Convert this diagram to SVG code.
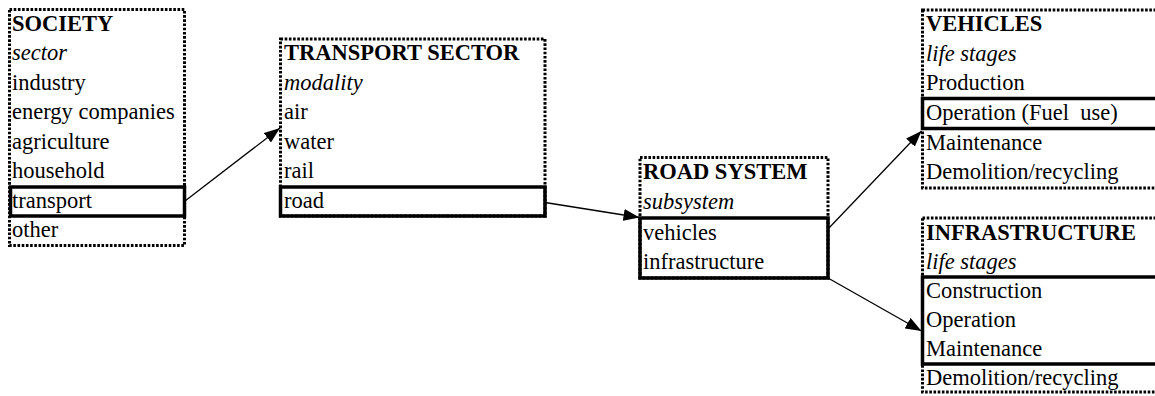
<svg xmlns="http://www.w3.org/2000/svg" width="1155" height="396" viewBox="0 0 1155 396">
  <style>
    text { font-family: "Liberation Serif", "Times New Roman", serif; font-size: 22.5px; fill: #000; white-space: pre; }
    .title { font-weight: bold; }
    .sub { font-style: italic; }
    .frame { fill: none; stroke: #000; stroke-width: 3; stroke-dasharray: 2.6 1.6; }
    .sel { fill: none; stroke: #000; stroke-width: 3.5; }
    .link { fill: none; stroke: #000; stroke-width: 1.3; marker-end: url(#head); }
  </style>
  <defs>
    <marker id="head" markerUnits="userSpaceOnUse" markerWidth="16" markerHeight="12" refX="16" refY="6" orient="auto">
      <path d="M0,0 L16,6 L0,12 z" fill="#000"/>
    </marker>
  </defs>
  <rect width="1155" height="396" fill="#fff"/>

  <!-- Society: sectors -->
  <g id="society">
    <rect class="frame" x="9.5" y="9.5" width="175" height="236"/>
    <rect class="sel" x="10.5" y="187" width="174" height="29"/>
    <text class="title" x="12" y="30.5">SOCIETY</text>
    <text class="sub" x="12" y="60">sector</text>
    <text x="12" y="89.5">industry</text>
    <text x="12" y="119">energy companies</text>
    <text x="12" y="148.5">agriculture</text>
    <text x="12" y="178">household</text>
    <text x="12" y="207.5">transport</text>
    <text x="12" y="237">other</text>
  </g>

  <!-- Transport sector: modalities -->
  <g id="transport-sector">
    <rect class="frame" x="280.5" y="39" width="264.5" height="177"/>
    <rect class="sel" x="280.5" y="187" width="264.5" height="29"/>
    <text class="title" x="284" y="60">TRANSPORT SECTOR</text>
    <text class="sub" x="284" y="89.5">modality</text>
    <text x="284" y="119">air</text>
    <text x="284" y="148.5">water</text>
    <text x="284" y="178">rail</text>
    <text x="284" y="207.5">road</text>
  </g>

  <!-- Road system: subsystems -->
  <g id="road-system">
    <rect class="frame" x="640" y="157.5" width="188" height="120.5"/>
    <rect class="sel" x="640" y="218" width="188" height="60"/>
    <text class="title" x="643" y="179">ROAD SYSTEM</text>
    <text class="sub" x="643" y="209">subsystem</text>
    <text x="643" y="240">vehicles</text>
    <text x="643" y="269">infrastructure</text>
  </g>

  <!-- Vehicles: life stages -->
  <g id="vehicles">
    <rect class="frame" x="922.5" y="10" width="260" height="178"/>
    <rect class="sel" x="922.5" y="98.5" width="260" height="30"/>
    <text class="title" x="926" y="31">VEHICLES</text>
    <text class="sub" x="926" y="60.5">life stages</text>
    <text x="926" y="90">Production</text>
    <text x="926" y="120">Operation (Fuel  use)</text>
    <text x="926" y="149.5">Maintenance</text>
    <text x="926" y="179">Demolition/recycling</text>
  </g>

  <!-- Infrastructure: life stages -->
  <g id="infrastructure">
    <rect class="frame" x="922.5" y="218" width="260" height="174"/>
    <rect class="sel" x="922.5" y="277" width="260" height="87"/>
    <text class="title" x="926" y="239.5">INFRASTRUCTURE</text>
    <text class="sub" x="926" y="268.5">life stages</text>
    <text x="926" y="298">Construction</text>
    <text x="926" y="327">Operation</text>
    <text x="926" y="356">Maintenance</text>
    <text x="926" y="385">Demolition/recycling</text>
  </g>

  <!-- Connectors -->
  <g id="connectors">
    <line class="link" x1="185" y1="201" x2="280" y2="128"/>
    <line class="link" x1="545" y1="202.5" x2="639.5" y2="217.5"/>
    <line class="link" x1="828" y1="229" x2="921.5" y2="131"/>
    <line class="link" x1="828" y1="278" x2="921.5" y2="331"/>
  </g>
</svg>
